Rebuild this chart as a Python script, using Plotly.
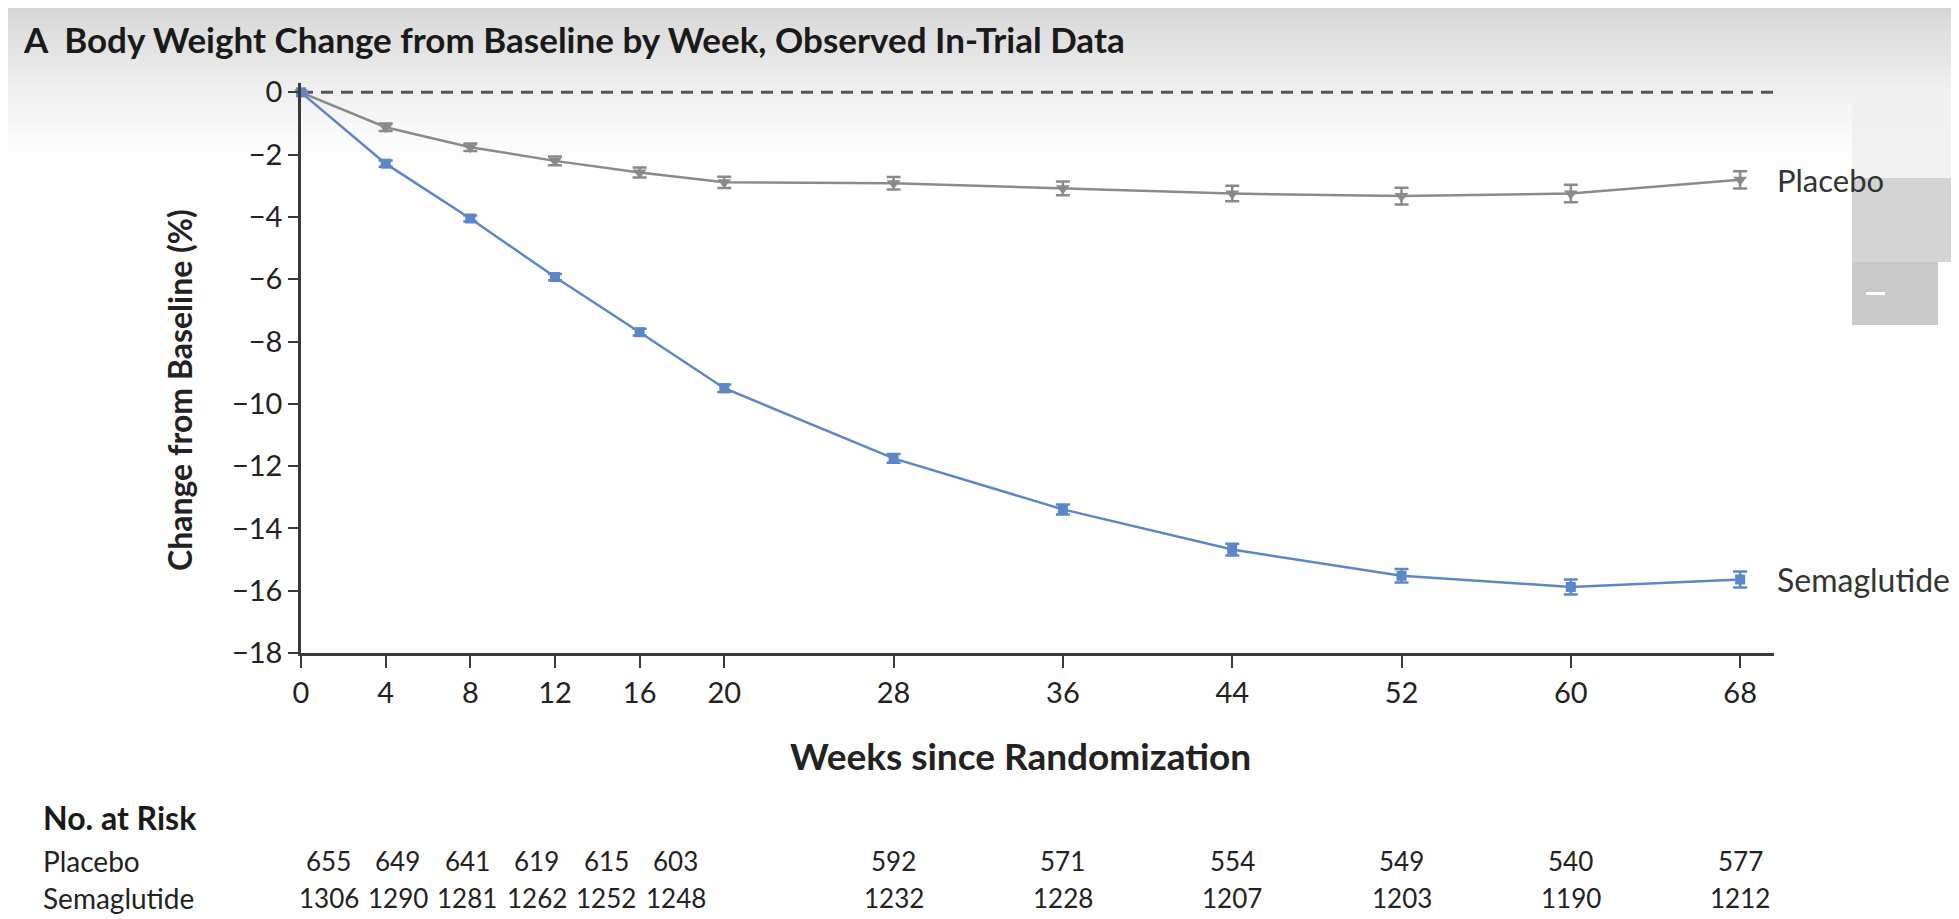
import plotly.graph_objects as go

weeks = [0, 4, 8, 12, 16, 20, 28, 36, 44, 52, 60, 68]
placebo = [0, -1.12, -1.76, -2.2, -2.57, -2.89, -2.92, -3.08, -3.25, -3.33, -3.25, -2.81]
placebo_err = [0, 0.12, 0.12, 0.14, 0.16, 0.18, 0.2, 0.22, 0.25, 0.27, 0.28, 0.28]
sema = [0, -2.29, -4.05, -5.93, -7.70, -9.50, -11.75, -13.39, -14.68, -15.52, -15.88, -15.64]
sema_err = [0, 0.1, 0.1, 0.1, 0.11, 0.12, 0.14, 0.16, 0.19, 0.22, 0.24, 0.26]
risk_placebo = [655, 649, 641, 619, 615, 603, 592, 571, 554, 549, 540, 577]
risk_sema = [1306, 1290, 1281, 1262, 1252, 1248, 1232, 1228, 1207, 1203, 1190, 1212]
y_ticks = [0, -2, -4, -6, -8, -10, -12, -14, -16, -18]

FONT = "Lato, Open Sans, sans-serif"
GRAY = "#8a8a8a"
BLUE = "#5b87c9"
AX = "#3a3a3a"
TXT = "#222222"

# page geometry (body margin of 8px in the html page)
OFF = 8
W, H = 1959 - OFF, 919 - OFF
PL, PR, PT, PB = 301, 1774, 83, 653   # plot area in screen px (left, right, top, bottom)
ML, MT = PL - OFF, PT - OFF
MR, MB = 1959 - PR, 919 - PB


def px(x):
    return (x - PL) / (PR - PL)


def py(y):
    return (PB - y) / (PB - PT)


fig = go.Figure()

fig.add_trace(go.Scatter(
    x=weeks, y=placebo, mode="lines+markers",
    line=dict(color=GRAY, width=2.5),
    marker=dict(symbol="triangle-down", size=12, color=GRAY),
    error_y=dict(type="data", array=placebo_err, color=GRAY, thickness=2.5, width=7),
    showlegend=False, cliponaxis=False))
fig.add_trace(go.Scatter(
    x=weeks, y=sema, mode="lines+markers",
    line=dict(color=BLUE, width=2.5),
    marker=dict(symbol="square", size=10, color=BLUE),
    error_y=dict(type="data", array=sema_err, color=BLUE, thickness=2.5, width=7),
    showlegend=False, cliponaxis=False))

shapes = []
# top gray gradient (screenshot background)
n = 24
top_h = 165
for i in range(n):
    y0 = i * top_h / n
    y1 = (i + 1) * top_h / n
    shade = 0.40 * (1 - i / n) ** 1.3
    shapes.append(dict(type="rect", xref="paper", yref="paper", x0=px(0), x1=px(1959),
                       y0=py(y1), y1=py(y0), fillcolor=f"rgba(150,150,150,{shade:.3f})",
                       line=dict(width=0), layer="below"))
# zero reference line
shapes.append(dict(type="line", xref="x", yref="y", x0=0, x1=69.6, y0=0, y1=0,
                   line=dict(color="#555555", width=3, dash="12px,8px"), layer="below"))


def px_rect(x0, x1, y0, y1, color):
    return dict(type="rect", xref="paper", yref="paper",
                x0=px(x0), x1=px(x1), y0=py(y1), y1=py(y0),
                fillcolor=color, line=dict(width=0), layer="above")


# right-side thumbnail overlay (screenshot artifact)
shapes.append(px_rect(1852, 1959, 102, 178, "rgba(238,238,238,0.75)"))
shapes.append(px_rect(1852, 1959, 178, 262, "rgba(205,205,205,0.85)"))
shapes.append(px_rect(1852, 1938, 262, 325, "rgba(198,198,198,0.95)"))
shapes.append(px_rect(1938, 1955, 262, 325, "rgba(255,255,255,1)"))
shapes.append(px_rect(1955, 1959, 262, 325, "rgba(198,198,198,0.95)"))
shapes.append(px_rect(1866, 1885, 292, 295, "rgba(255,255,255,1)"))

ROW_P, ROW_S = 861, 898

annotations = [
    dict(text="<b>A  Body Weight Change from Baseline by Week, Observed In-Trial Data</b>",
         xref="paper", yref="paper", x=px(21), y=py(39),
         xanchor="left", yanchor="middle", showarrow=False,
         font=dict(size=35, color="#1a1a1a", family=FONT)),
    dict(text="<b>Weeks since Randomization</b>", xref="paper", yref="paper",
         x=px(1020), y=py(755), xanchor="center", yanchor="middle",
         showarrow=False, font=dict(size=37, color=TXT, family=FONT)),
    dict(text="<b>Change from Baseline (%)</b>", xref="paper", yref="paper",
         x=px(179), y=py(390), textangle=-90,
         xanchor="center", yanchor="middle", showarrow=False,
         font=dict(size=32, color=TXT, family=FONT)),
    dict(text="Placebo", xref="x", yref="y", x=weeks[-1], y=placebo[-1], xshift=35,
         xanchor="left", yanchor="middle", showarrow=False,
         font=dict(size=31, color="#333", family=FONT)),
    dict(text="Semaglutide", xref="x", yref="y", x=weeks[-1], y=sema[-1], xshift=35,
         xanchor="left", yanchor="middle", showarrow=False,
         font=dict(size=32, color="#333", family=FONT)),
    dict(text="<b>No. at Risk</b>", xref="paper", yref="paper",
         x=px(41), y=py(817), xanchor="left", yanchor="middle",
         showarrow=False, font=dict(size=32, color="#1a1a1a", family=FONT)),
    dict(text="Placebo", xref="paper", yref="paper",
         x=px(41), y=py(ROW_P), xanchor="left", yanchor="middle",
         showarrow=False, font=dict(size=28, color=TXT, family=FONT)),
    dict(text="Semaglutide", xref="paper", yref="paper",
         x=px(41), y=py(ROW_S), xanchor="left", yanchor="middle",
         showarrow=False, font=dict(size=28, color=TXT, family=FONT)),
]

for w, p, s in zip(weeks, risk_placebo, risk_sema):
    col = 1.3 + 0.82 * w if w <= 20 else w
    for val, ypx in ((p, ROW_P), (s, ROW_S)):
        annotations.append(dict(text=str(val), xref="x", yref="paper", x=col,
                                y=py(ypx), xanchor="center", yanchor="middle",
                                showarrow=False, font=dict(size=26, color=TXT, family=FONT)))

fig.update_layout(
    width=W, height=H,
    margin=dict(l=ML, r=MR, t=MT, b=MB),
    paper_bgcolor="white", plot_bgcolor="rgba(0,0,0,0)",
    font=dict(family=FONT, size=29, color=TXT),
    shapes=shapes, annotations=annotations,
    xaxis=dict(range=[0, 69.6], tickvals=weeks, ticks="outside", ticklen=12, tickwidth=2,
               tickcolor=AX, showline=True, linecolor=AX, linewidth=2.5, showgrid=False,
               zeroline=False, tickfont=dict(size=29, family=FONT, color=TXT)),
    yaxis=dict(range=[-18, 0.3], tickvals=y_ticks,
               ticktext=[str(v).replace("-", "\u2212") for v in y_ticks],
               ticks="outside", ticklen=10, tickwidth=2, tickcolor=AX,
               showline=True, linecolor=AX, linewidth=2.5, showgrid=False,
               zeroline=False, tickfont=dict(size=29, family=FONT, color=TXT)),
)

fig.write_html("out.html")
